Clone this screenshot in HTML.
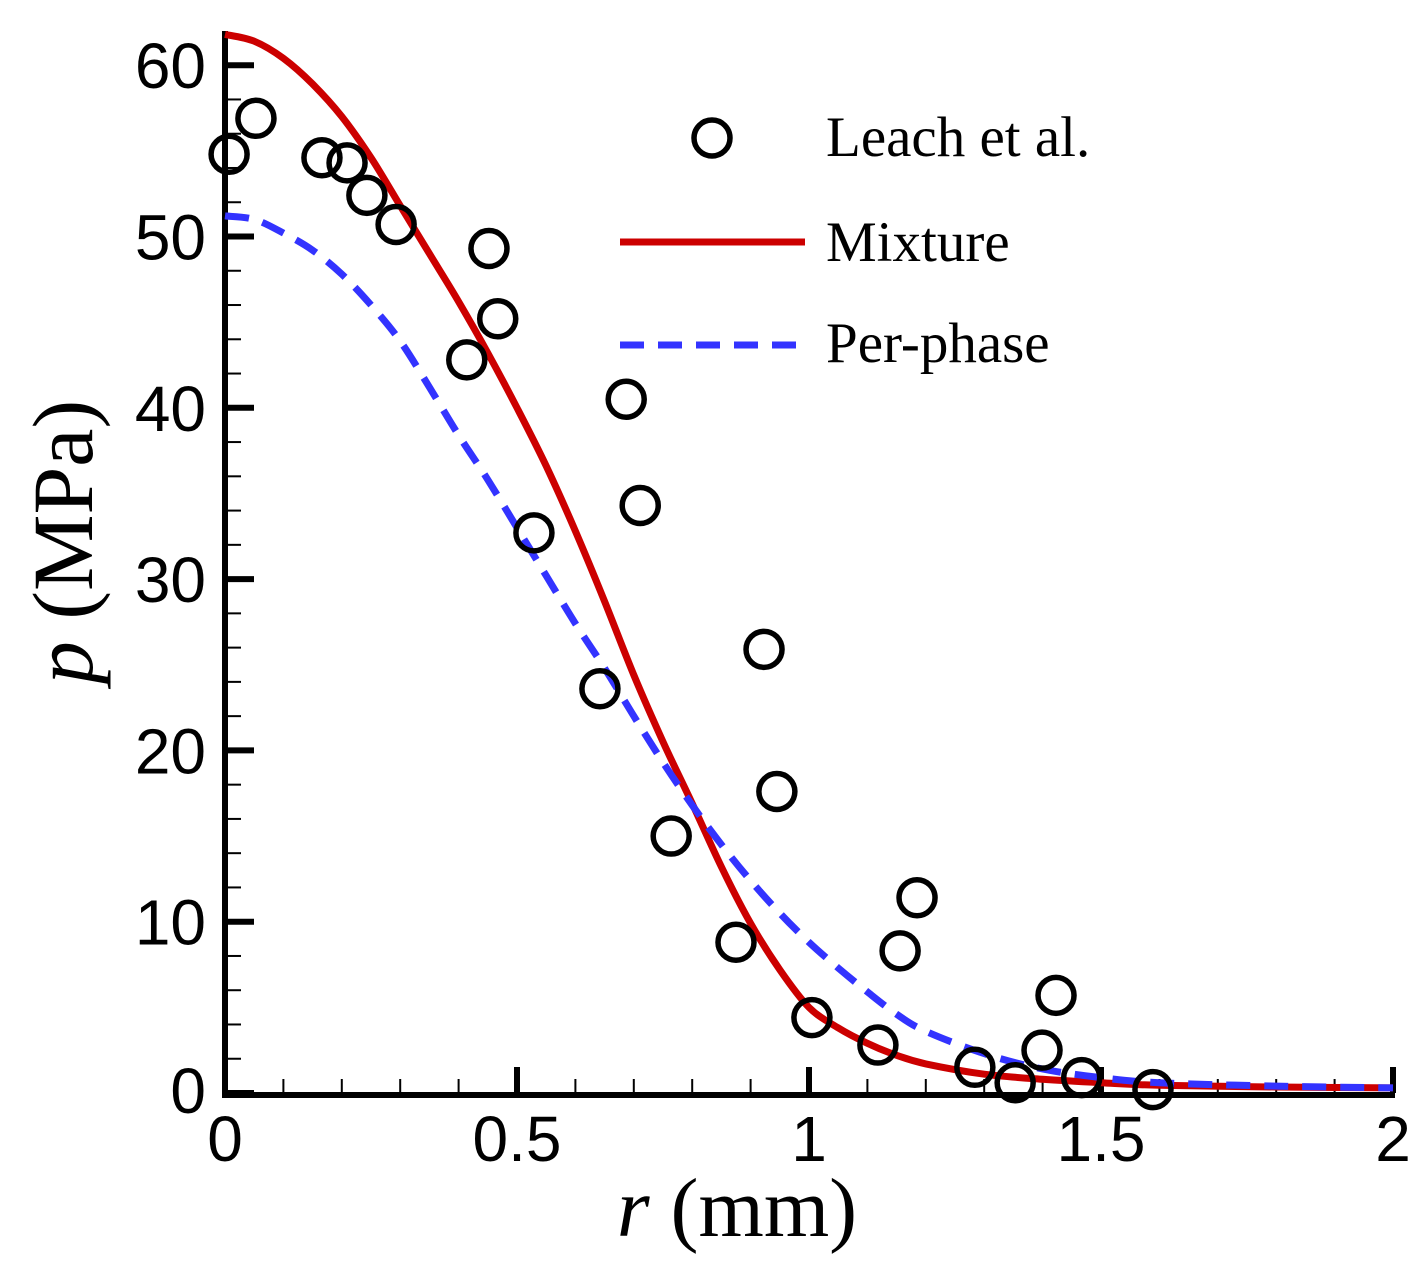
<!DOCTYPE html>
<html><head><meta charset="utf-8"><style>body{margin:0;background:#fff}svg{display:block}</style></head>
<body>
<svg id="chart" width="1427" height="1276" xmlns="http://www.w3.org/2000/svg">
<g id="axes"></g>
<g id="series"></g>
<g>
  <circle cx="712" cy="138" r="18" fill="none" stroke="#000" stroke-width="5.5"/>
  <text x="826" y="156" font-family="Liberation Serif, serif" font-size="57">Leach et al.</text>
  <line x1="620" y1="242" x2="805" y2="242" stroke="#cc0000" stroke-width="7"/>
  <text x="826" y="261" font-family="Liberation Serif, serif" font-size="57">Mixture</text>
  <line x1="620" y1="345" x2="805" y2="345" stroke="#3333ff" stroke-width="7" stroke-dasharray="24,14"/>
  <text x="826" y="362" font-family="Liberation Serif, serif" font-size="57">Per-phase</text>
</g>
<text x="737" y="1236" text-anchor="middle" font-family="Liberation Serif, serif" font-size="84"><tspan font-style="italic">r</tspan> (mm)</text>
<text transform="translate(92,542) rotate(-90)" text-anchor="middle" font-family="Liberation Serif, serif" font-size="86"><tspan font-style="italic">p</tspan> (MPa)</text>
</svg>
<script>
const xTicks = [0, 0.5, 1, 1.5, 2];
const xTickLabels = ["0", "0.5", "1", "1.5", "2"];
const yTicks = [0, 10, 20, 30, 40, 50, 60];
const yTickLabels = ["0", "10", "20", "30", "40", "50", "60"];
const leachR = [0.007,0.053,0.166,0.209,0.243,0.293,0.452,0.467,0.414,0.687,0.711,0.529,0.642,0.923,0.945,0.764,0.875,1.185,1.156,1.005,1.118,1.284,1.353,1.399,1.423,1.467,1.589];
const leachP = [54.8,56.9,54.6,54.3,52.4,50.7,49.3,45.2,42.8,40.5,34.3,32.7,23.6,25.9,17.6,15.0,8.8,11.4,8.3,4.4,2.8,1.5,0.6,2.5,5.7,0.9,0.2];
const curveR = [0,0.05,0.1,0.15,0.2,0.25,0.3,0.35,0.4,0.45,0.5,0.55,0.6,0.65,0.7,0.75,0.8,0.85,0.9,0.95,1.0,1.05,1.1,1.15,1.2,1.3,1.4,1.5,1.6,1.8,2.0];
const mixtureP = [61.8,61.4,60.4,58.9,57.0,54.6,51.8,49.0,46.2,43.2,40.0,36.6,32.8,28.7,24.4,20.5,16.9,13.2,9.9,7.2,5.0,3.8,2.9,2.2,1.7,1.1,0.8,0.6,0.45,0.35,0.3];
const perPhaseP = [51.2,51.0,50.2,49.2,47.8,46.0,43.9,41.2,38.4,35.8,33.0,30.2,27.4,24.8,22.0,19.3,16.8,14.5,12.4,10.5,8.8,7.3,5.9,4.6,3.6,2.3,1.4,0.9,0.6,0.4,0.3];

const NS = "http://www.w3.org/2000/svg";
const X = v => 225 + v * 584;
const Y = v => 1093 - v * 17.13;
function mk(tag, attrs, parent) {
  const e = document.createElementNS(NS, tag);
  for (const k in attrs) e.setAttribute(k, attrs[k]);
  parent.appendChild(e);
  return e;
}
function smoothPath(xs, ys) {
  const p = xs.map((r, i) => [X(r), Y(ys[i])]);
  let d = 'M' + p[0][0].toFixed(1) + ',' + p[0][1].toFixed(1);
  for (let i = 0; i < p.length - 1; i++) {
    const p0 = p[i - 1] || p[i], p1 = p[i], p2 = p[i + 1], p3 = p[i + 2] || p2;
    const c1 = [p1[0] + (p2[0] - p0[0]) / 6, p1[1] + (p2[1] - p0[1]) / 6];
    const c2 = [p2[0] - (p3[0] - p1[0]) / 6, p2[1] - (p3[1] - p1[1]) / 6];
    d += ' C' + c1.map(v => v.toFixed(1)).join(',') + ' ' + c2.map(v => v.toFixed(1)).join(',') + ' ' + p2.map(v => v.toFixed(1)).join(',');
  }
  return d;
}
const axes = document.getElementById('axes');
const series = document.getElementById('series');
for (let i = 1; i < 20; i++) {
  if (i % 5 === 0) continue;
  const t = mk('line', {x1: X(i / 10), x2: X(i / 10), y1: 1093, y2: 1079, stroke: '#000', 'stroke-width': 2}, axes);
  
  
}
for (let i = 1; i < 31; i++) {
  if (i % 5 === 0) continue;
  const t = mk('line', {x1: 225, x2: 241, y1: Y(i * 2), y2: Y(i * 2), stroke: '#000', 'stroke-width': 2}, axes);
  
  
}
xTicks.forEach((v, i) => {
  const t = mk('line', {x1: X(v), x2: X(v), y1: 1093, y2: 1067, stroke: '#000', 'stroke-width': 6}, axes);
  
  
  const l = mk('text', {x: X(v), y: 1161, 'text-anchor': 'middle', 'font-family': 'Liberation Sans, sans-serif', 'font-size': 64}, axes);
  l.textContent = xTickLabels[i];
  
  
});
yTicks.forEach((v, i) => {
  const t = mk('line', {x1: 225, x2: 254, y1: Y(v), y2: Y(v), stroke: '#000', 'stroke-width': 6}, axes);
  
  
  const l = mk('text', {x: 206, y: Y(v) + (v === 0 ? 20 : 23), 'text-anchor': 'end', 'font-family': 'Liberation Sans, sans-serif', 'font-size': 64}, axes);
  l.textContent = yTickLabels[i];
  
  
});
const xa = mk('line', {x1: 222, x2: 1395, y1: 1095, y2: 1095, stroke: '#000', 'stroke-width': 6}, axes);


const ya = mk('line', {x1: 225, x2: 225, y1: 31, y2: 1098, stroke: '#000', 'stroke-width': 6}, axes);



const mix = mk('path', {d: smoothPath(curveR, mixtureP), fill: 'none', stroke: '#cc0000', 'stroke-width': 7}, series);


const pp = mk('path', {d: smoothPath(curveR, perPhaseP), fill: 'none', stroke: '#3333ff', 'stroke-width': 7, 'stroke-dasharray': '24,14'}, series);


leachR.forEach((r, i) => {
  const c = mk('circle', {cx: X(r), cy: Y(leachP[i]), r: 18, fill: 'none', stroke: '#000', 'stroke-width': 5.5}, series);
  
  
});
</script>
</body></html>
